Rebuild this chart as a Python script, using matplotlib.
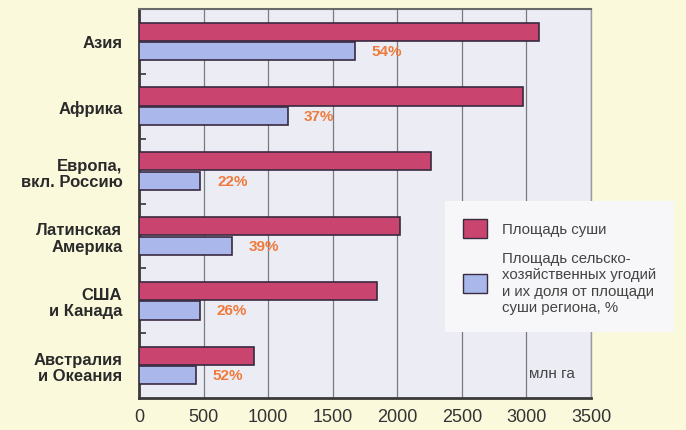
import matplotlib.pyplot as plt
import numpy as np
from matplotlib.patches import Patch

regions = ["Азия", "Африка", "Европа,\nвкл. Россию", "Латинская\nАмерика",
           "США\nи Канада", "Австралия\nи Океания"]
land_area = [3100, 2970, 2260, 2020, 1840, 890]
agri_area = [1670, 1150, 475, 720, 472, 441]
agri_share = ["54%", "37%", "22%", "39%", "26%", "52%"]
xticks = [0, 500, 1000, 1500, 2000, 2500, 3000, 3500]

red = "#c9456f"
blue = "#a9b7ea"
edge = "#3a2a40"
orange = "#ef7a3c"

plt.rcParams['font.family'] = ['Liberation Sans', 'DejaVu Sans']

fig = plt.figure(figsize=(6.86, 4.31), dpi=100)
fig.patch.set_facecolor("#fbf9dc")
ax = fig.add_axes([139 / 686, 1 - 399 / 431, 452 / 686, 389 / 431])
ax.set_facecolor("#ecedf4")

y = np.arange(len(regions))
h = 0.28
ax.barh(y - 0.15, land_area, height=h, color=red, edgecolor=edge, linewidth=1.2, zorder=3)
ax.barh(y + 0.15, agri_area, height=h, color=blue, edgecolor=edge, linewidth=1.2, zorder=3)

for yi, val, txt in zip(y, agri_area, agri_share):
    ax.annotate(txt, (val, yi + 0.15), xytext=(12, 0), textcoords="offset points",
                va="center", ha="left", color=orange, fontsize=11, fontweight="bold")

ax.set_xlim(0, 3500)
ax.set_ylim(len(regions) - 0.5, -0.5)
ax.set_xticks(xticks)
ax.set_xticklabels([str(t) for t in xticks], fontsize=13, color="#333333")
ax.tick_params(axis="x", length=0, pad=7)
ax.grid(axis="x", color="#7a7a80", linewidth=0.9, zorder=1)

ax.set_yticks(y)
ax.set_yticklabels(regions, fontsize=12, fontweight="bold", color="#2a2a2a",
                   linespacing=1.1)
ax.tick_params(axis="y", length=0, pad=12)
ax.set_yticks(np.arange(0.5, len(regions) - 0.5, 1), minor=True)
ax.tick_params(axis="y", which="minor", direction="in", length=5, width=1.2, color="#333333")

for s in ["left", "bottom"]:
    ax.spines[s].set_color("#3a3a3a")
    ax.spines[s].set_linewidth(2.0)
ax.spines["top"].set_color("#6a6a6a")
ax.spines["top"].set_linewidth(1.5)
ax.spines["right"].set_color("#9a9aa0")
ax.spines["right"].set_linewidth(1.0)

ax.text(0.965, 0.045, "млн га", transform=ax.transAxes, ha="right", va="bottom",
        fontsize=11, color="#444444")

handles = [Patch(facecolor=red, edgecolor=edge, linewidth=1.0),
           Patch(facecolor=blue, edgecolor=edge, linewidth=1.0)]
labels = ["Площадь суши",
          "Площадь сельско-\nхозяйственных угодий\nи их доля от площади\nсуши региона, %"]
leg = fig.legend(handles, labels, loc="upper left", bbox_to_anchor=(437 / 686, 1 - 194 / 431),
                 frameon=True, fancybox=False, fontsize=10.8, handlelength=1.6, handleheight=1.6,
                 labelspacing=0.9, borderpad=1.2, handletextpad=1.0)
leg.get_frame().set_facecolor("#f7f7f9")
leg.get_frame().set_edgecolor("none")
leg.get_frame().set_alpha(1)
for t in leg.get_texts():
    t.set_color("#444444")

fig.savefig("out.png", dpi=100, facecolor=fig.get_facecolor())
